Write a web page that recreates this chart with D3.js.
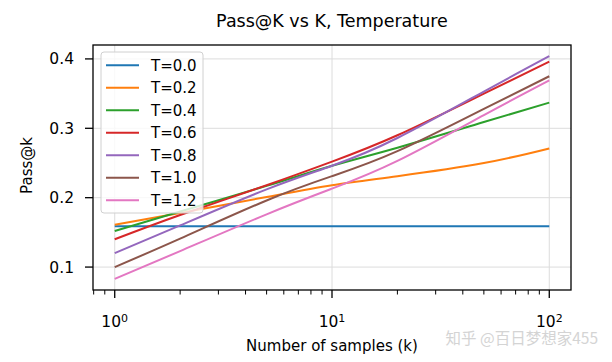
<!DOCTYPE html>
<html>
<head>
<meta charset="utf-8">
<script src="https://cdn.jsdelivr.net/npm/d3@7"></script>
<style>
  body { margin: 0; background: #fff; }
  svg text { font-family: "DejaVu Sans", sans-serif; fill: #000; }
</style>
</head>
<body>
<div id="chart"></div>
<script>
// data
var ks = [1, 2, 5, 10, 20, 50, 100]
var temps = ["T=0.0", "T=0.2", "T=0.4", "T=0.6", "T=0.8", "T=1.0", "T=1.2"]
var t00 = [0.159, 0.159, 0.159, 0.159, 0.159, 0.159, 0.159]
var t02 = [0.161, 0.178, 0.201, 0.218, 0.231, 0.250, 0.271]
var t04 = [0.152, 0.180, 0.217, 0.246, 0.272, 0.309, 0.337]
var t06 = [0.140, 0.175, 0.218, 0.252, 0.290, 0.350, 0.396]
var t08 = [0.120, 0.160, 0.212, 0.246, 0.286, 0.353, 0.404]
var t10 = [0.100, 0.141, 0.196, 0.231, 0.267, 0.328, 0.375]
var t12 = [0.083, 0.123, 0.176, 0.213, 0.253, 0.319, 0.369]
var colors = ["#1f77b4", "#ff7f0e", "#2ca02c", "#d62728", "#9467bd", "#8c564b", "#e377c2"]
var yTicks = [0.1, 0.2, 0.3, 0.4]
var xMajor = [1, 10, 100]

var series = [t00, t02, t04, t06, t08, t10, t12].map(function(vals, i) {
  return { name: temps[i], color: colors[i], values: vals.map(function(v, j) { return { k: ks[j], v: v } }) }
})

var W = 612, H = 362
var margin = {top: 45, right: 41, bottom: 72, left: 93}
var width = W - margin.left - margin.right
var height = H - margin.top - margin.bottom

var svg = d3.select("#chart").append("svg")
  .attr("width", W).attr("height", H)

var g = svg.append("g")
  .attr("transform", "translate(" + margin.left + "," + margin.top + ")")

// matplotlib-like 5% margins
var lmin = Math.log10(d3.min(ks)), lmax = Math.log10(d3.max(ks))
var lpad = (lmax - lmin) * 0.05
var xScale = d3.scaleLog()
  .domain([Math.pow(10, lmin - lpad), Math.pow(10, lmax + lpad)])
  .range([0, width])

var allV = d3.merge(series.map(function(s) { return s.values.map(function(d) { return d.v }) }))
var vmin = d3.min(allV), vmax = d3.max(allV), vpad = (vmax - vmin) * 0.05
var yScale = d3.scaleLinear()
  .domain([vmin - vpad, vmax + vpad])
  .range([height, 0])

// grid
g.append("g").selectAll("line").data(xMajor).enter().append("line")
  .attr("x1", function(d) { return xScale(d) }).attr("x2", function(d) { return xScale(d) })
  .attr("y1", 0).attr("y2", height)
  .attr("stroke", "#dcdcdc").attr("stroke-width", 1)
g.append("g").selectAll("line").data(yTicks).enter().append("line")
  .attr("y1", function(d) { return yScale(d) }).attr("y2", function(d) { return yScale(d) })
  .attr("x1", 0).attr("x2", width)
  .attr("stroke", "#dcdcdc").attr("stroke-width", 1)

// lines
var line = d3.line()
  .x(function(d) { return xScale(d.k) })
  .y(function(d) { return yScale(d.v) })
  .curve(d3.curveNatural)

g.selectAll(".series").data(series).enter().append("path")
  .attr("class", "series")
  .attr("d", function(d) { return line(d.values) })
  .attr("fill", "none")
  .attr("stroke", function(d) { return d.color })
  .attr("stroke-width", 2)

// frame
g.append("rect")
  .attr("width", width).attr("height", height)
  .attr("fill", "none").attr("stroke", "#000").attr("stroke-width", 1.3)

// x axis: major + minor ticks
var minor = []
xScale.ticks().forEach(function(t) { if (xMajor.indexOf(t) < 0) minor.push(t) })
var xAxisG = g.append("g").attr("transform", "translate(0," + height + ")")
xAxisG.selectAll(".minor").data(minor).enter().append("line")
  .attr("x1", function(d) { return xScale(d) }).attr("x2", function(d) { return xScale(d) })
  .attr("y1", 0).attr("y2", 4.5).attr("stroke", "#000").attr("stroke-width", 1)
xAxisG.selectAll(".major").data(xMajor).enter().append("line")
  .attr("x1", function(d) { return xScale(d) }).attr("x2", function(d) { return xScale(d) })
  .attr("y1", 0).attr("y2", 8).attr("stroke", "#000").attr("stroke-width", 1.3)
var xl = xAxisG.selectAll(".xlab").data(xMajor).enter().append("text")
  .attr("x", function(d) { return xScale(d) })
  .attr("y", 37)
  .attr("text-anchor", "middle")
  .style("font-size", "15.5px")
xl.append("tspan").text("10")
xl.append("tspan").attr("dy", "-0.45em").style("font-size", "11px")
  .text(function(d) { return String(Math.round(Math.log10(d))) })

// y axis
var yAxisG = g.append("g")
yAxisG.selectAll("line").data(yTicks).enter().append("line")
  .attr("x1", -8).attr("x2", 0)
  .attr("y1", function(d) { return yScale(d) }).attr("y2", function(d) { return yScale(d) })
  .attr("stroke", "#000").attr("stroke-width", 1.3)
yAxisG.selectAll("text").data(yTicks).enter().append("text")
  .attr("x", -19)
  .attr("y", function(d) { return yScale(d) })
  .attr("dy", "0.36em")
  .attr("text-anchor", "end")
  .style("font-size", "15.5px")
  .text(d3.format(".1f"))

// labels
svg.append("text")
  .attr("x", margin.left + width / 2).attr("y", 27)
  .attr("text-anchor", "middle").style("font-size", "17.5px")
  .text("Pass@K vs K, Temperature")
svg.append("text")
  .attr("x", margin.left + width / 2).attr("y", 351)
  .attr("text-anchor", "middle").style("font-size", "15px")
  .text("Number of samples (k)")
svg.append("text")
  .attr("transform", "translate(32," + (margin.top + height / 2 - 2) + ") rotate(-90)")
  .attr("text-anchor", "middle").style("font-size", "15px")
  .text("Pass@k")

// legend
var leg = svg.append("g").attr("transform", "translate(101,52)")
leg.append("rect")
  .attr("width", 102).attr("height", 161).attr("rx", 3)
  .attr("fill", "#fff").attr("fill-opacity", 0.8)
  .attr("stroke", "#d0d0d0").attr("stroke-width", 1)
var items = leg.selectAll(".item").data(series).enter().append("g")
  .attr("transform", function(d, i) { return "translate(0," + (13.3 + i * 22.5) + ")" })
items.append("line")
  .attr("x1", 5).attr("x2", 38)
  .attr("stroke", function(d) { return d.color }).attr("stroke-width", 2)
items.append("text")
  .attr("x", 50).attr("dy", "0.36em")
  .style("font-size", "15px")
  .text(function(d) { return d.name })

// watermark
svg.append("text")
  .attr("x", 598).attr("y", 344)
  .attr("text-anchor", "end")
  .style("font-family", "'Noto Sans CJK SC', sans-serif")
  .style("font-size", "15.5px")
  .style("fill", "#d4d4d4")
  .text("知乎 @百日梦想家455")
</script>
</body>
</html>
